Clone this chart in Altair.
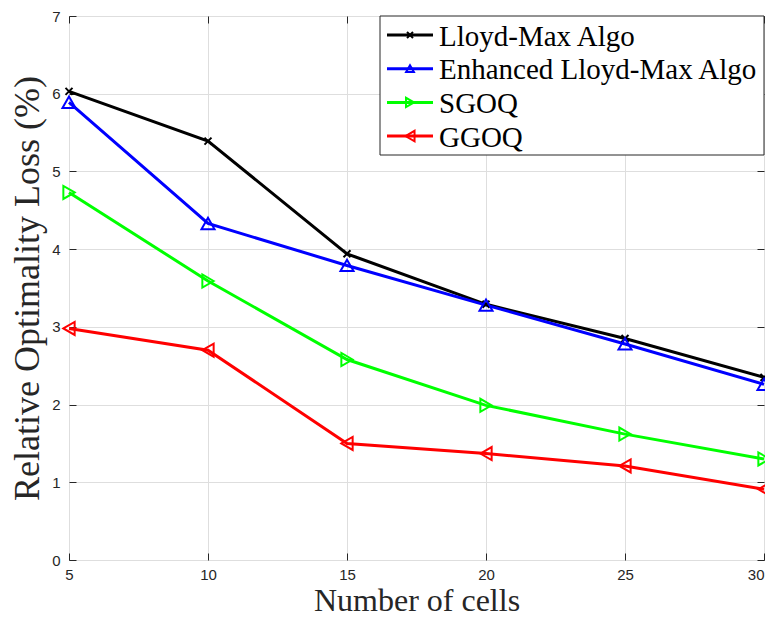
import altair as alt
import pandas as pd

cells = [5, 10, 15, 20, 25, 30]
lloyd = [6.03, 5.39, 3.94, 3.29, 2.85, 2.35]
enhanced = [5.89, 4.33, 3.79, 3.28, 2.78, 2.26]
sgoq = [4.73, 3.59, 2.58, 1.99, 1.62, 1.30]
ggoq = [2.98, 2.70, 1.50, 1.37, 1.21, 0.91]

series_names = ["Lloyd-Max Algo", "Enhanced Lloyd-Max Algo", "SGOQ", "GGOQ"]
series_colors = ["#000000", "#0000ff", "#00ff00", "#ff0000"]
x_ticks = [5, 10, 15, 20, 25, 30]
y_ticks = [0, 1, 2, 3, 4, 5, 6, 7]

plot_shapes = [
    "M-1,-1L1,1M-1,1L1,-1",
    "triangle-up",
    "triangle-right",
    "triangle-left",
]
plot_sizes = [49, 170, 170, 170]
legend_sizes = [36, 110, 110, 110]

rows = []
for name, vals in zip(series_names, [lloyd, enhanced, sgoq, ggoq]):
    for c, v in zip(cells, vals):
        rows.append({"cells": c, "loss": v, "series": name})
df = pd.DataFrame(rows)
legend_df = pd.DataFrame({"series": series_names, "idx": list(range(len(series_names)))})

W, H = 695, 544
xscale = alt.Scale(domain=[5, 30], nice=False, zero=False)
yscale = alt.Scale(domain=[0, 7], nice=False, zero=True)
cscale = alt.Scale(domain=series_names, range=series_colors)

TXT = "#262626"

main_x_axis = alt.Axis(
    values=x_ticks, grid=True, gridColor="#dedede", ticks=False, domain=False,
    labelFont="Liberation Sans", labelFontSize=15, labelColor=TXT, labelPadding=7,
    labelFlush=False, labelAlign={"expr": "datum.value == 30 ? 'right' : 'center'"},
    title="Number of cells", titleFont="Liberation Serif",
    titleFontSize=32, titleFontWeight="normal", titleColor=TXT, titlePadding=3,
)
main_y_axis = alt.Axis(
    values=y_ticks, grid=True, gridColor="#dedede", ticks=False, domain=False,
    labelFont="Liberation Sans", labelFontSize=15, labelColor=TXT, labelPadding=9,
    labelFlush=False, title="Relative Optimality Loss (%)", titleFont="Liberation Serif",
    titleFontSize=36, titleFontWeight="normal", titleColor=TXT, titlePadding=5,
)


def tick_axis(vals, orient, offset):
    return alt.Axis(
        values=vals, orient=orient, offset=offset, labels=False, ticks=True,
        tickSize=7, tickColor=TXT, tickWidth=1, domain=False, grid=False, title="",
    )


lines = alt.Chart(df).mark_line(strokeWidth=3).encode(
    x=alt.X("cells:Q", scale=xscale, axis=main_x_axis),
    y=alt.Y("loss:Q", scale=yscale, axis=main_y_axis),
    color=alt.Color("series:N", scale=cscale, legend=None),
    detail="series:N",
)

marker_axes = [
    (tick_axis(x_ticks, "top", -H), tick_axis(y_ticks, "right", -W)),
    (tick_axis(x_ticks, "bottom", -H), tick_axis(y_ticks, "left", -W)),
    (None, None),
    (None, None),
]

marker_layers = []
for name, shp, sz, (xa, ya) in zip(series_names, plot_shapes, plot_sizes, marker_axes):
    marker_layers.append(
        alt.Chart(df)
        .transform_filter(alt.datum.series == name)
        .mark_point(shape=shp, size=sz, filled=False, strokeWidth=2, opacity=1)
        .encode(
            x=alt.X("cells:Q", scale=xscale, axis=xa),
            y=alt.Y("loss:Q", scale=yscale, axis=ya),
            color=alt.Color("series:N", scale=cscale, legend=None),
        )
    )

# ---- legend (drawn as marks, top-right inside the plot) ----
ROW0, ROWSTEP = 19, 33.7
leg_base = alt.Chart(legend_df).transform_calculate(
    ly=f"{ROW0} + {ROWSTEP} * datum.idx"
)

leg_box = (
    alt.Chart(legend_df)
    .transform_filter("datum.idx == 0")
    .mark_rect(fill="white", stroke=TXT, strokeWidth=1)
    .encode(x=alt.value(311), x2=alt.value(W), y=alt.value(0), y2=alt.value(139))
)

leg_lines = leg_base.mark_rule(strokeWidth=3).encode(
    x=alt.value(318), x2=alt.value(364),
    y=alt.Y("ly:Q", scale=None, axis=None),
    color=alt.Color("series:N", scale=cscale, legend=None),
)

leg_marks = leg_base.mark_point(filled=False, strokeWidth=2, opacity=1).encode(
    x=alt.value(341),
    y=alt.Y("ly:Q", scale=None, axis=None),
    color=alt.Color("series:N", scale=cscale, legend=None),
    shape=alt.Shape("series:N", scale=alt.Scale(domain=series_names, range=plot_shapes), legend=None),
    size=alt.Size("series:N", scale=alt.Scale(domain=series_names, range=legend_sizes), legend=None),
)

leg_text = leg_base.mark_text(
    align="left", baseline="alphabetic", dy=10.5,
    font="Liberation Serif", fontSize=29, color="black",
).encode(
    x=alt.value(370),
    y=alt.Y("ly:Q", scale=None, axis=None),
    text="series:N",
)

chart = (
    alt.layer(lines, *marker_layers, leg_box, leg_lines, leg_marks, leg_text)
    .resolve_axis(x="independent", y="independent")
    .properties(
        width=W, height=H, autosize="none",
        padding={"left": 61, "top": 8, "right": 1, "bottom": 62},
        background="white",
    )
    .configure_view(stroke=TXT, strokeWidth=1)
)

chart.save("out.html", embed_options={"renderer": "svg", "actions": False})
